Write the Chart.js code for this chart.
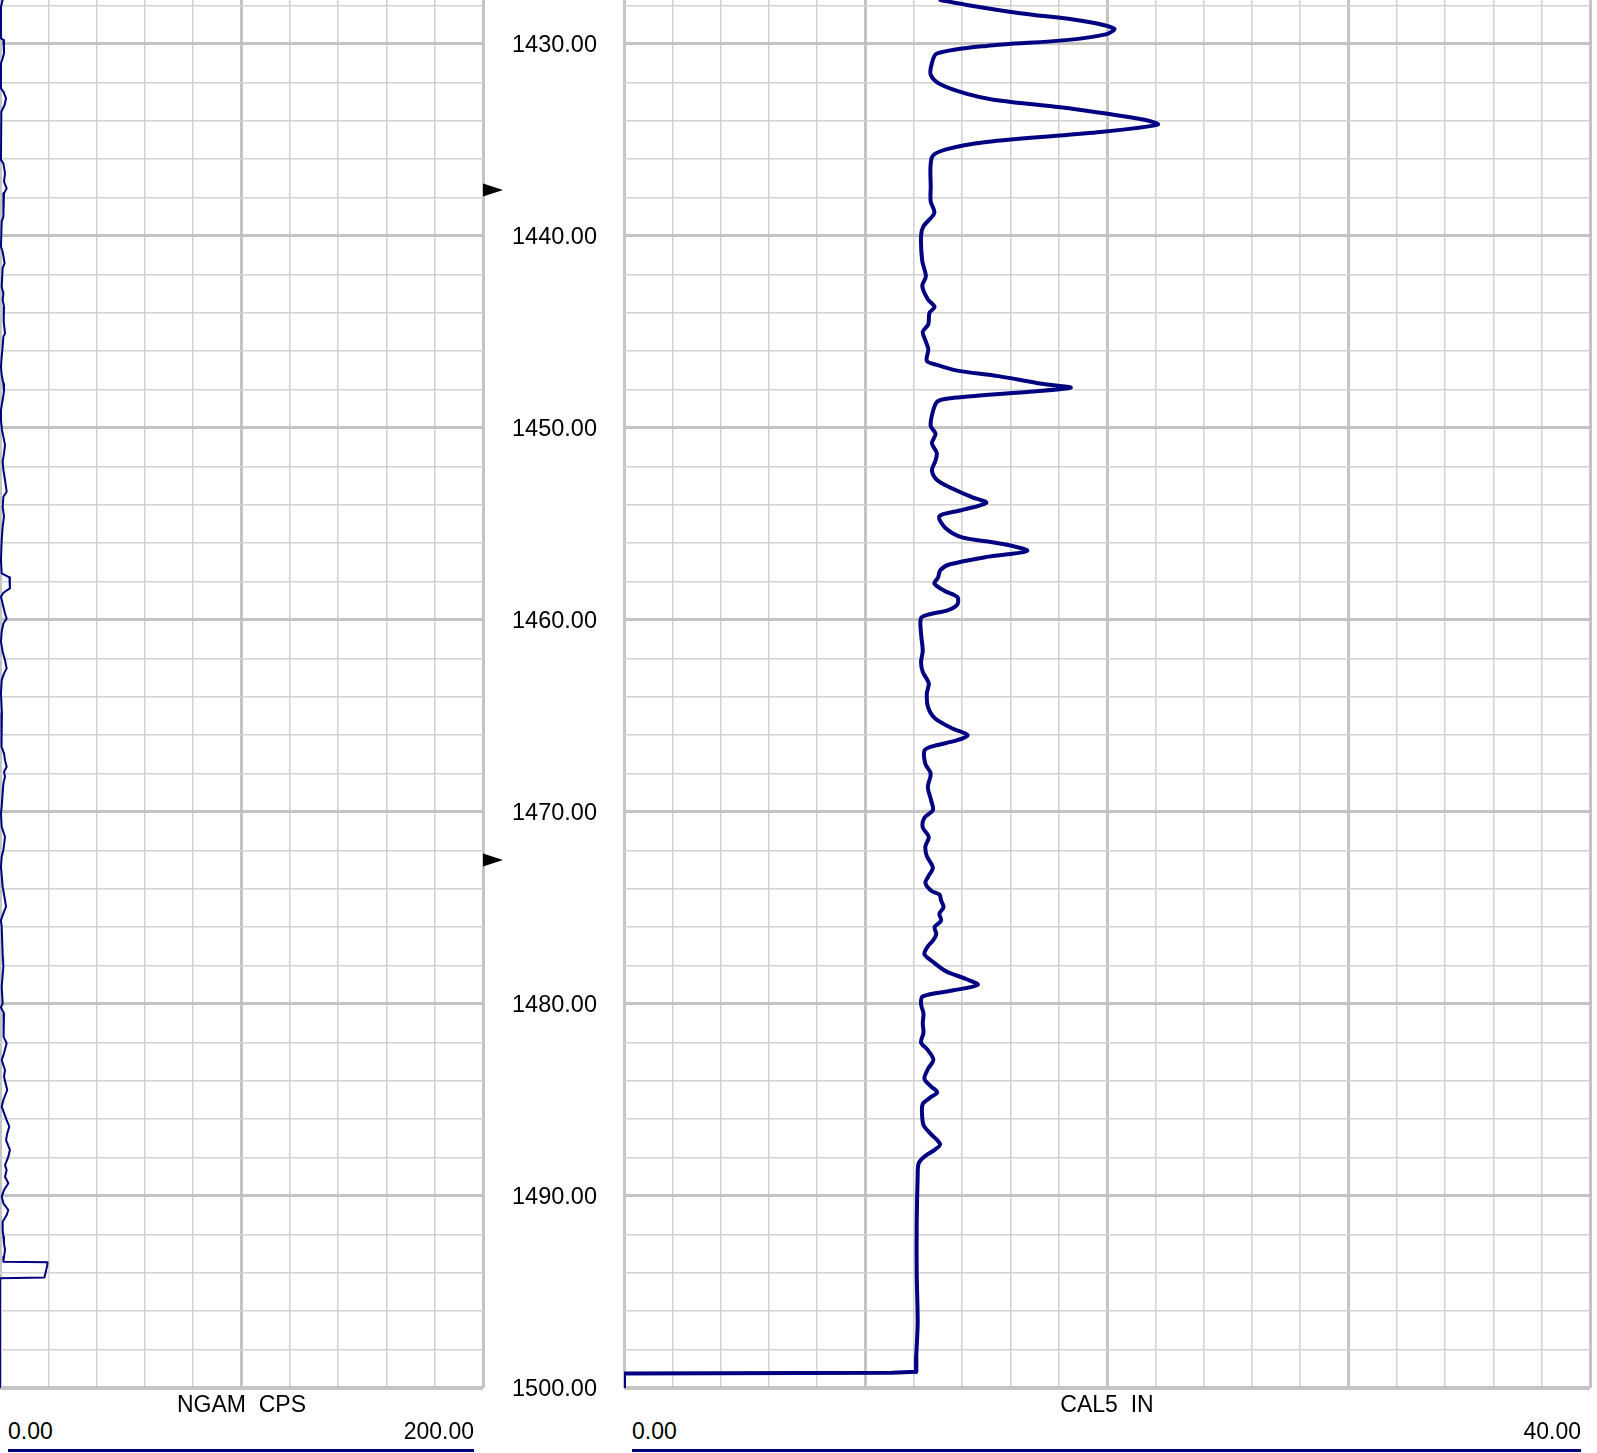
<!DOCTYPE html>
<html>
<head>
<meta charset="utf-8">
<title>NGAM / CAL5</title>
<script src="https://cdn.jsdelivr.net/npm/chart.js@4.4.1/dist/chart.umd.min.js"></script>
<style>
  html, body { margin: 0; padding: 0; background: #fff; overflow: hidden; }
  body { width: 1597px; height: 1453px; position: relative; font-family: "Liberation Sans", Arial, sans-serif; }
  .track { position: absolute; top: 0; height: 1400px; }
  .track canvas { display: block; }
  .lbl { position: absolute; font-size: 23px; line-height: 23px; color: #000; white-space: pre; }
  .bar { position: absolute; height: 3px; background: #000080; }
</style>
</head>
<body>
<div class="track" style="left:0; width:490px;"><canvas id="ngamChart" width="490" height="1400"></canvas></div>
<div class="track" style="left:476px; width:1121px;"><canvas id="cal5Chart" width="1121" height="1400"></canvas></div>
<div id="footer"></div>

<script>
// depth axis
const depthTop = 1427.71;
const depthBottom = 1500;
const depthLabels = [1430, 1440, 1450, 1460, 1470, 1480, 1490, 1500];
const markerDepths = [1437.6, 1472.5];

// NGAM (CPS), left track
const ngamRange = [0, 200];
const ngamDepth = [
  1427.71, 1428.06, 1429.71, 1429.79, 1430.14, 1430.49, 1430.75, 1431.01, 1432.31, 1432.48,
  1432.83, 1433.18, 1433.53, 1436.04, 1436.22, 1436.74, 1437.17, 1437.52, 1437.78, 1438.3,
  1438.99, 1439.25, 1440.56, 1440.82, 1441.42, 1441.68, 1442.64, 1442.99, 1443.33, 1443.68,
  1444.12, 1444.46, 1445.07, 1445.24, 1445.77, 1446.29, 1446.81, 1447.24, 1447.68, 1448.11,
  1448.54, 1449.06, 1449.58, 1450.1, 1450.45, 1450.89, 1451.32, 1451.75, 1452.19, 1452.71,
  1453.32, 1453.58, 1454.1, 1454.62, 1455.14, 1455.84, 1456.88, 1457.57, 1457.78, 1458.35,
  1458.58, 1458.79, 1459.31, 1459.66, 1459.92, 1460.18, 1460.61, 1461.13, 1461.65, 1462.09,
  1462.52, 1462.78, 1463.13, 1463.82, 1464.86, 1465.9, 1466.6, 1466.95, 1467.3, 1467.64,
  1467.9, 1468.16, 1468.51, 1469.03, 1469.73, 1470.07, 1470.77, 1471.29, 1471.98, 1472.33,
  1472.85, 1473.89, 1474.59, 1474.93, 1475.28, 1475.63, 1475.98, 1477.37, 1478.06, 1479.1,
  1479.97, 1480.18, 1480.49, 1480.84, 1481.36, 1481.71, 1482.05, 1482.57, 1482.92, 1483.44,
  1483.79, 1484.48, 1485.0, 1485.35, 1486.05, 1486.39, 1486.74, 1487.09, 1487.6, 1487.95,
  1488.39, 1488.65, 1489.0, 1489.34, 1489.69, 1490.03, 1490.38, 1490.73, 1490.99, 1491.34,
  1491.77, 1492.12, 1492.46, 1492.81, 1493.16, 1493.43, 1493.45, 1493.6, 1494.25, 1494.28,
  1500
];
const ngamValue = [
  1.1, 0.4, 0.4, 1.4, 1.65, 1.65, 1.1, 0.4, 0.4, 1.4,
  2.5, 1.9, 0.55, 0.4, 1.4, 2.07, 1.65, 2.76, 1.65, 1.4,
  1.4, 0.7, 0.4, 1.1, 1.9, 1.1, 0.7, 1.4, 1.1, 1.65,
  1.4, 1.65, 2.07, 1.4, 1.1, 0.7, 0.4, 0.7, 1.4, 1.65,
  1.1, 0.4, 0.4, 0.8, 1.4, 2.07, 1.65, 1.1, 1.4, 2.07,
  2.76, 1.4, 1.1, 1.65, 1.1, 0.7, 0.4, 0.7, 3.9, 4.1,
  1.4, 0.4, 1.4, 2.07, 2.76, 1.4, 0.7, 0.4, 1.1, 2.07,
  2.76, 1.65, 0.7, 0.4, 0.8, 0.55, 0.7, 1.65, 2.07, 2.76,
  1.65, 2.07, 1.4, 1.1, 0.7, 0.4, 0.7, 2.07, 1.4, 0.7,
  0.4, 1.1, 2.07, 2.5, 1.4, 0.4, 0.7, 1.1, 1.4, 0.7,
  1.1, 0.4, 1.65, 1.4, 1.65, 1.4, 2.76, 1.65, 0.7, 2.07,
  1.65, 3.0, 1.4, 0.7, 2.76, 3.86, 3.0, 2.5, 4.1, 3.45,
  2.07, 2.76, 2.07, 3.45, 1.65, 0.7, 1.4, 3.45, 2.76, 1.1,
  1.1, 1.4, 1.65, 2.07, 1.65, 1.4, 19.7, 19.6, 18.4, 0,
  0
];

// CAL5 (IN), right track
const cal5Range = [0, 40];
const cal5Depth = [
  1427.71, 1427.97, 1428.4, 1428.8, 1429.2, 1429.5, 1429.8, 1430.1, 1430.5, 1431.0,
  1431.6, 1432.1, 1432.6, 1432.9, 1433.4, 1433.96, 1434.2, 1434.6, 1435.1, 1435.5,
  1435.9, 1437.5, 1438.2, 1438.8, 1439.5, 1440.0, 1441.3, 1442.1, 1442.6, 1443.3,
  1443.7, 1444.0, 1444.6, 1445.0, 1445.5, 1445.9, 1446.5, 1446.7, 1447.0, 1447.3,
  1447.7, 1447.9, 1448.1, 1448.4, 1448.6, 1449.1, 1449.9, 1450.3, 1450.8, 1451.3,
  1451.7, 1452.2, 1452.7, 1453.1, 1453.6, 1453.9, 1454.3, 1454.6, 1455.2, 1455.7,
  1456.0, 1456.4, 1456.7, 1457.1, 1457.4, 1457.8, 1458.1, 1458.5, 1458.8, 1459.2,
  1459.5, 1459.7, 1459.9, 1460.7, 1461.6, 1462.2, 1462.7, 1463.3, 1463.8, 1464.5,
  1465.1, 1465.65, 1466.0, 1466.26, 1466.6, 1466.8, 1467.5, 1468.0, 1468.7, 1469.4,
  1469.9, 1470.3, 1470.8, 1471.3, 1471.8, 1472.3, 1472.9, 1473.4, 1473.7, 1474.1,
  1474.3, 1474.6, 1474.96, 1475.3, 1475.65, 1476.0, 1476.35, 1476.7, 1477.0, 1477.4,
  1477.8, 1478.3, 1478.7, 1479.0, 1479.3, 1479.6, 1480.0, 1480.5, 1481.0, 1481.5,
  1482.0, 1482.4, 1482.9, 1483.4, 1483.9, 1484.3, 1484.6, 1484.9, 1485.2, 1485.7,
  1486.3, 1486.7, 1487.3, 1487.6, 1487.95, 1488.3, 1489.0, 1491.4, 1494.0, 1496.6,
  1498.4, 1499.15, 1499.2, 1499.25, 1500
];
const cal5Value = [
  13.1, 14.2, 16.4, 19.0, 20.3, 19.95, 18.3, 15.0, 12.95, 12.75,
  12.7, 13.1, 14.2, 15.3, 18.7, 21.6, 22.1, 19.6, 15.0, 13.3,
  12.75, 12.7, 12.7, 12.85, 12.4, 12.3, 12.35, 12.5, 12.35, 12.58,
  12.86, 12.65, 12.6, 12.37, 12.5, 12.6, 12.54, 12.92, 13.75, 15.5,
  17.3, 18.5, 16.9, 13.9, 13.0, 12.8, 12.7, 12.9, 12.75, 12.95,
  12.9, 12.75, 12.95, 13.5, 14.4, 15.0, 13.9, 13.06, 13.3, 14.0,
  15.5, 16.7, 15.1, 13.5, 13.1, 13.0, 12.85, 13.3, 13.8, 13.8,
  13.4, 12.65, 12.3, 12.3, 12.37, 12.3, 12.37, 12.62, 12.54, 12.58,
  12.86, 13.6, 14.23, 13.8, 12.72, 12.44, 12.48, 12.7, 12.58, 12.72,
  12.79, 12.44, 12.37, 12.62, 12.48, 12.54, 12.79, 12.58, 12.48, 12.72,
  13.06, 13.13, 13.23, 13.06, 13.13, 12.86, 12.93, 12.79, 12.58, 12.44,
  12.79, 13.34, 14.17, 14.65, 13.6, 12.37, 12.3, 12.4, 12.37, 12.4,
  12.3, 12.58, 12.81, 12.58, 12.44, 12.72, 12.97, 12.65, 12.37, 12.34,
  12.4, 12.65, 13.09, 12.86, 12.44, 12.2, 12.16, 12.12, 12.12, 12.16,
  12.1, 12.1, 11.1, 0, 0
];
// below this depth the caliper trace is drawn straight (tool pulled in)
const cal5StraightFrom = 1498.4;

const CURVE = '#000080';
const MAJOR = '#c4c4c4';
const MINOR = '#d2d2d2';
Chart.defaults.font.family = '"Liberation Sans", Arial, sans-serif';

// grid every 2 m, heavy every 10 m
const depthTicks = [];
for (let d = 1428; d <= depthBottom; d += 2) depthTicks.push(d);

function stepTicks(range, step) {
  const out = [];
  for (let v = range[0]; v <= range[1] + 1e-9; v += step) out.push(+v.toFixed(4));
  return out;
}

function depthScale(yAxisWidth, showLabels) {
  return {
    type: 'linear',
    min: depthTop,
    max: depthBottom,
    reverse: true,
    afterBuildTicks: s => { s.ticks = depthTicks.map(v => ({ value: v })); },
    afterFit: s => { s.width = yAxisWidth; s.paddingTop = 0; s.paddingBottom = 0; },
    border: { display: false },
    grid: {
      drawTicks: false,
      color: c => (c.tick.value % 10 === 0 ? MAJOR : MINOR),
      lineWidth: c => (c.tick.value === depthBottom ? 4 : (c.tick.value % 10 === 0 ? 3 : 1.5))
    },
    ticks: {
      display: showLabels,
      padding: 27,
      labelOffset: 2,
      color: '#000',
      font: { size: 23.5 },
      callback: v => (depthLabels.includes(v) ? v.toFixed(2) : '')
    }
  };
}

function valueScale(range, step, majorEvery) {
  const ticks = stepTicks(range, step);
  return {
    type: 'linear',
    position: 'bottom',
    min: range[0],
    max: range[1],
    afterBuildTicks: s => { s.ticks = ticks.map(v => ({ value: v })); },
    border: { display: false },
    grid: {
      drawTicks: false,
      color: c => (Math.abs(c.tick.value % majorEvery) < 1e-6 ? MAJOR : MINOR),
      lineWidth: c => (Math.abs(c.tick.value % majorEvery) < 1e-6 ? 3 : 1.5)
    },
    ticks: { display: false }
  };
}

function curve(depths, values, width, tension) {
  return {
    data: depths.map((d, i) => ({ x: values[i], y: d })),
    showLine: true,
    borderColor: CURVE,
    borderWidth: width,
    borderJoinStyle: 'round',
    borderCapStyle: 'round',
    pointRadius: 0,
    tension: tension,
    fill: false
  };
}

// split caliper into the smooth log part and the straight pull-in at the bottom
const cut = cal5Depth.indexOf(cal5StraightFrom);
const cal5Smooth = curve(cal5Depth.slice(0, cut + 2), cal5Value.slice(0, cut + 2), 4, 0.3);
const cal5Tail = curve(cal5Depth.slice(cut), cal5Value.slice(cut), 4, 0);

// the small black arrows in the depth column
const depthMarkers = {
  id: 'depthMarkers',
  afterDraw(chart) {
    const ctx = chart.ctx;
    const y = chart.scales.y;
    const x0 = chart.chartArea.left - 141;
    ctx.save();
    ctx.fillStyle = '#000';
    markerDepths.forEach(d => {
      const py = y.getPixelForValue(d);
      ctx.beginPath();
      ctx.moveTo(x0, py - 6.5);
      ctx.lineTo(x0 + 20, py);
      ctx.lineTo(x0, py + 6.5);
      ctx.closePath();
      ctx.fill();
    });
    ctx.restore();
  }
};

const common = {
  responsive: false,
  animation: false,
  events: [],
  plugins: { legend: { display: false }, tooltip: { enabled: false } }
};

new Chart(document.getElementById('ngamChart'), {
  type: 'scatter',
  data: { datasets: [curve(ngamDepth, ngamValue, 2, 0)] },
  options: Object.assign({}, common, {
    layout: { autoPadding: false, padding: { left: 0, right: 7, top: 0, bottom: 12 } },
    scales: {
      x: valueScale(ngamRange, 20, 100),
      y: depthScale(0, false)
    }
  })
});

new Chart(document.getElementById('cal5Chart'), {
  type: 'scatter',
  data: { datasets: [cal5Smooth, cal5Tail] },
  options: Object.assign({}, common, {
    layout: { autoPadding: false, padding: { left: 0, right: 7, top: 0, bottom: 12 } },
    scales: {
      x: valueScale(cal5Range, 2, 10),
      y: depthScale(148, true)
    }
  }),
  plugins: [depthMarkers]
});

// scale headers under each track
const footer = document.getElementById('footer');
function addLabel(text, style) {
  const el = document.createElement('div');
  el.className = 'lbl';
  el.textContent = text;
  el.setAttribute('style', style);
  footer.appendChild(el);
}
function addBar(left, width) {
  const el = document.createElement('div');
  el.className = 'bar';
  el.setAttribute('style', 'left:' + left + 'px; width:' + width + 'px; top:1449px;');
  footer.appendChild(el);
}
function trackFooter(name, range, left, right) {
  addLabel(name, 'left:' + left + 'px; width:' + (right - left) + 'px; top:1393px; text-align:center;');
  addLabel(range[0].toFixed(2), 'left:' + (left + 8) + 'px; top:1420px;');
  addLabel(range[1].toFixed(2), 'left:' + left + 'px; width:' + (right - left - 9) + 'px; top:1420px; text-align:right;');
  addBar(left + 8, right - left - 17);
}
trackFooter('NGAM  CPS', ngamRange, 0, 483);
trackFooter('CAL5  IN', cal5Range, 624, 1590);
</script>
</body>
</html>
